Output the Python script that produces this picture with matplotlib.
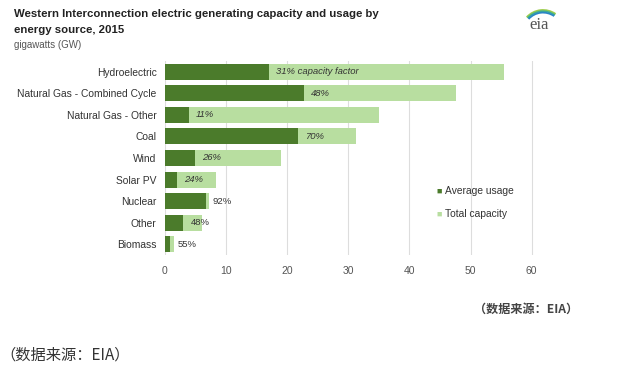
import numpy as np
import matplotlib.pyplot as plt
from matplotlib.patches import Arc

plt.rcParams['font.family'] = ['Liberation Sans', 'DejaVu Sans']

# Data (GW)
sources = ['Hydroelectric', 'Natural Gas - Combined Cycle', 'Natural Gas - Other',
           'Coal', 'Wind', 'Solar PV', 'Nuclear', 'Other', 'Biomass']
usage = [17.0, 22.8, 3.9, 21.8, 4.9, 2.0, 6.7, 3.0, 0.9]
capacity = [55.5, 47.6, 35.1, 31.3, 19.0, 8.3, 7.2, 6.1, 1.5]
factor_labels = ['31% capacity factor', '48%', '11%', '70%', '26%', '24%', '92%', '48%', '55%']
xticks = [0, 10, 20, 30, 40, 50, 60]

dark = '#4b7b2b'
light = '#b8dea0'

fig = plt.figure(figsize=(6.29, 3.68), dpi=100)
ax = fig.add_axes([165 / 629, 1 - 255 / 368, (66 * 6.11) / 629, 194 / 368])

y = np.arange(len(sources))
ax.barh(y, capacity, height=0.74, color=light, zorder=2, label='Total capacity')
ax.barh(y, usage, height=0.74, color=dark, zorder=3, label='Average usage')

for i in range(len(sources)):
    inside = capacity[i] > usage[i] + 1.15 + 2
    ax.text(usage[i] + 1.15, y[i], factor_labels[i], va='center', ha='left',
            fontsize=6.8, color='#333333', style='italic' if inside else 'normal', zorder=4)

ax.set_xlim(0, 66)
ax.set_ylim(len(sources) - 0.5, -0.5)
ax.set_xticks(xticks)
ax.set_xticklabels([str(t) for t in xticks], fontsize=7.5, color='#555555')
ax.set_yticks(y)
ax.set_yticklabels(sources, fontsize=7.4, color='#333333')
ax.tick_params(length=0, pad=6)
ax.tick_params(axis='x', pad=8)
ax.xaxis.grid(True, color='#dddddd', linewidth=0.8, zorder=0)
ax.set_axisbelow(True)
for s in ax.spines.values():
    s.set_visible(False)

# legend (drawn manually to match the small square markers)
fig.text(436 / 629, 1 - 191 / 368, '\u25a0', color=dark, fontsize=6.5, va='center', ha='left')
fig.text(445 / 629, 1 - 191 / 368, 'Average usage', color='#333333', fontsize=7.4, va='center')
fig.text(436 / 629, 1 - 214 / 368, '\u25a0', color=light, fontsize=6.5, va='center', ha='left')
fig.text(445 / 629, 1 - 214 / 368, 'Total capacity', color='#333333', fontsize=7.4, va='center')

# titles
fig.text(14 / 629, 1 - 14 / 368, 'Western Interconnection electric generating capacity and usage by',
         fontsize=8.2, fontweight='bold', color='#222222', va='center')
fig.text(14 / 629, 1 - 30 / 368, 'energy source, 2015',
         fontsize=8.2, fontweight='bold', color='#222222', va='center')
fig.text(14 / 629, 1 - 45 / 368, 'gigawatts (GW)', fontsize=7, color='#555555', va='center')

# eia logo
fig.text(539 / 629, 1 - 25 / 368, 'eia', family='Liberation Serif', fontsize=12,
         color='#555555', ha='center', va='center')
lax = fig.add_axes([515 / 629, 1 - 40 / 368, 50 / 629, 40 / 368])
lax.set_xlim(515, 565)
lax.set_ylim(40, 0)
lax.axis('off')
for dr, c in [(0, '#9ccc4a'), (1.3, '#3fae8f'), (2.6, '#2a86c4')]:
    lax.add_patch(Arc((543, 32), 2 * (22 - dr), 2 * (22 - dr), theta1=222, theta2=305,
                      color=c, linewidth=1.3))

# source notes
fig.text(578 / 629, 1 - 309 / 368, '（数据来源：EIA）', family=['Noto Sans CJK SC', 'DejaVu Sans'],
         fontsize=8.7, fontweight='bold', color='#444444', ha='right', va='center')
fig.text(0, 1 - 355 / 368, '（数据来源：EIA）', family=['Noto Sans CJK SC', 'DejaVu Sans'],
         fontsize=11, color='#333333', ha='left', va='center')

fig.savefig('out.png', dpi=100)
